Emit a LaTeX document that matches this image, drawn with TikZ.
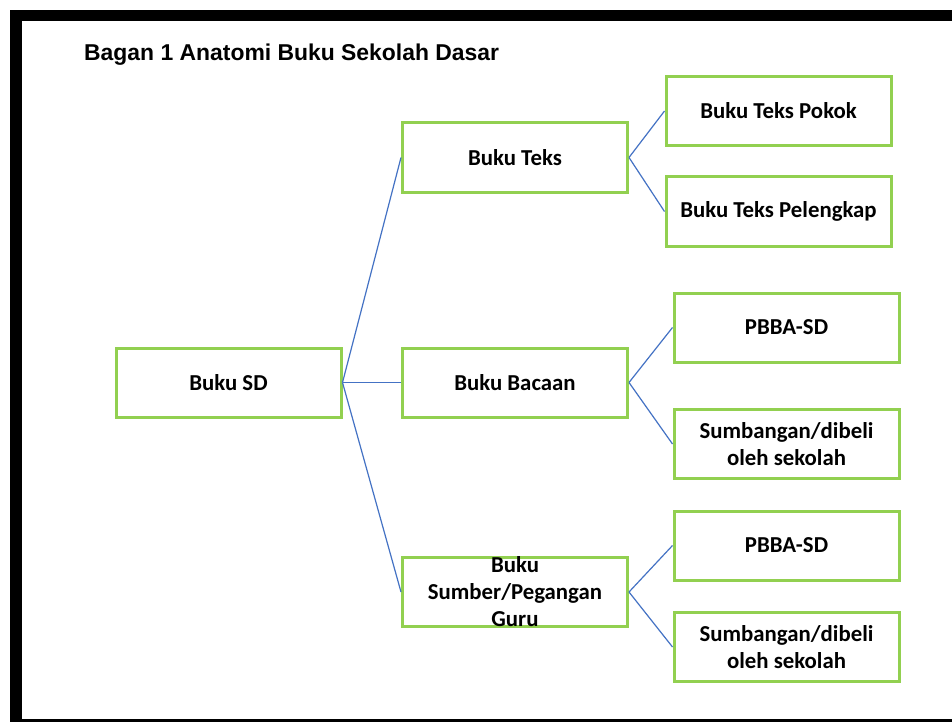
\documentclass[tikz,border=0pt]{standalone}
\usepackage{fontspec}
\setmainfont{Carlito}
\newfontfamily\arialfont{Liberation Sans}
\definecolor{boxgreen}{HTML}{92D050}
\definecolor{linkblue}{HTML}{4472C4}
\begin{document}
\begin{tikzpicture}[x=1pt,y=-1pt,
  bx/.style={draw=boxgreen, line width=3pt, minimum width=225pt, minimum height=69pt,
    inner sep=0pt, align=center, font=\fontsize{22.8}{27}\selectfont\bfseries},
  txt/.style={inner sep=0pt, align=center, font=\fontsize{22.8}{27}\selectfont\bfseries},
  link/.style={draw=linkblue, line width=1.2pt}]
\useasboundingbox (0,0) rectangle (952,722);
\fill[white] (0,0) rectangle (952,722);
% frame
\fill[black] (10,10) rectangle (952,21);
\fill[black] (10,10) rectangle (22,722);
\fill[black] (10,719) rectangle (952,722);
% title
\node[anchor=west, inner sep=0pt, font=\arialfont\bfseries\fontsize{22.9}{27}\selectfont] (title) at (84,55) {Bagan 1 Anatomi Buku Sekolah Dasar};
% boxes
\node[bx] (sd) at (228.5,382.5) {Buku SD};
\node[bx] (teks) at (515,157.5) {Buku Teks};
\node[bx] (bacaan) at (515,382.5) {Buku Bacaan};
\node[bx] (sumber) at (515,592) {};
\node[txt] (sumbertxt) at (515,592) {Buku\\Sumber/Pegangan\\Guru};
\node[bx] (pokok) at (778.5,111) {Buku Teks Pokok};
\node[bx] (pelengkap) at (778.5,211.5) {Buku Teks Pelengkap};
\node[bx] (pbbaa) at (786.5,327.5) {PBBA-SD};
\node[bx] (sumba) at (786.5,444) {Sumbangan/dibeli\\oleh sekolah};
\node[bx] (pbbab) at (786.5,545.5) {PBBA-SD};
\node[bx] (sumbb) at (786.5,647) {Sumbangan/dibeli\\oleh sekolah};
% connectors
\draw[link] (sd.east) -- (teks.west);
\draw[link] (sd.east) -- (bacaan.west);
\draw[link] (sd.east) -- (sumber.west);
\draw[link] (teks.east) -- (pokok.west);
\draw[link] (teks.east) -- (pelengkap.west);
\draw[link] (bacaan.east) -- (pbbaa.west);
\draw[link] (bacaan.east) -- (sumba.west);
\draw[link] (sumber.east) -- (pbbab.west);
\draw[link] (sumber.east) -- (sumbb.west);
\end{tikzpicture}
\end{document}
